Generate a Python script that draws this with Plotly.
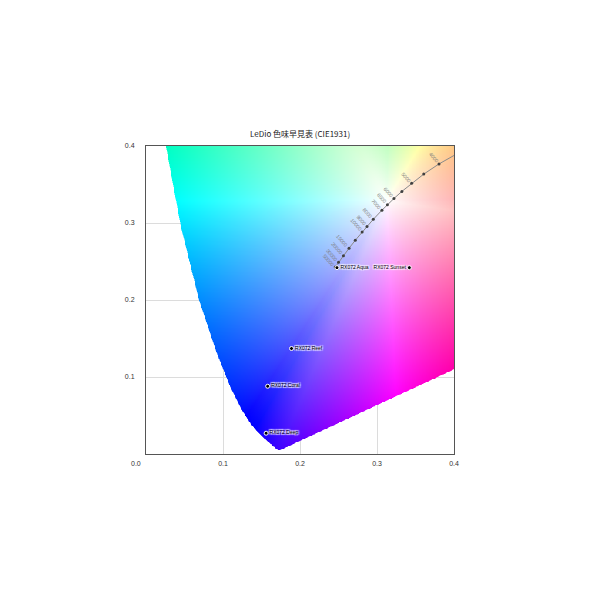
import numpy as np
import plotly.graph_objects as go

title_text = "LeDio 色味早見表 (CIE1931)"

# CIE 1931 2° spectral locus (x, y), 380 nm -> 700 nm
locus_x = [0.1741, 0.1733, 0.1726, 0.1714, 0.1689, 0.1644, 0.1566, 0.1510, 0.1440, 0.1355,
           0.1241, 0.1096, 0.0913, 0.0687, 0.0454, 0.0235, 0.0082, 0.0039, 0.0139, 0.0389,
           0.0743, 0.1547, 0.2296, 0.3016, 0.3731, 0.4441, 0.5125, 0.5752, 0.6270, 0.6915,
           0.7190, 0.7347]
locus_y = [0.0050, 0.0048, 0.0048, 0.0051, 0.0069, 0.0109, 0.0177, 0.0227, 0.0297, 0.0399,
           0.0578, 0.0868, 0.1327, 0.2007, 0.2950, 0.4127, 0.5384, 0.6548, 0.7502, 0.8120,
           0.8338, 0.8059, 0.7543, 0.6923, 0.6245, 0.5547, 0.4866, 0.4242, 0.3725, 0.3083,
           0.2809, 0.2653]
white_point = (0.3127, 0.3290)

# Black-body (Planckian) locus points
cct_K = [3500, 4000, 4500, 5000, 5500, 6000, 6500, 7000, 8000, 9000, 10000, 12000,
         15000, 20000, 30000, 50000]
cct_x = [0.4053, 0.3805, 0.3607, 0.3450, 0.3323, 0.3220, 0.3135, 0.3064, 0.2952, 0.2870,
         0.2807, 0.2718, 0.2637, 0.2564, 0.2500, 0.2457]
cct_y = [0.3907, 0.3767, 0.3635, 0.3516, 0.3410, 0.3318, 0.3237, 0.3166, 0.3048, 0.2956,
         0.2883, 0.2776, 0.2672, 0.2576, 0.2489, 0.2427]
cct_labels = ["", "4000", "", "5000", "", "6000", "6500", "7000", "8000", "9000", "10000", "",
              "15000", "20000", "30000", "50000"]

sample_names = ["RX072 Aqua", "RX072 Sunset", "RX072 Reef", "RX072 Coral", "RX072 Deep"]
sample_x = [0.248, 0.342, 0.189, 0.158, 0.156]
sample_y = [0.242, 0.242, 0.137, 0.088, 0.027]
sample_pos = ["middle right", "middle left", "middle right", "middle right", "middle right"]

tick_vals = [0.1, 0.2, 0.3, 0.4]
tick_text = ["0.1", "0.2", "0.3", "0.4"]
axis_range = [0.0, 0.4]

# ---- colour fill of the chromaticity diagram ----
N = 400
step = (axis_range[1] - axis_range[0]) / N
SS = 2
sub = axis_range[0] + (np.arange(N * SS) + 0.5) * step / SS
PX, PY = np.meshgrid(sub, sub)
vx = np.array(locus_x)
vy = np.array(locus_y)


def inside_poly(px, py):
    res = np.zeros(px.shape, dtype=bool)
    n = len(vx)
    j = n - 1
    for i in range(n):
        xi, yi, xj, yj = vx[i], vy[i], vx[j], vy[j]
        cond = ((yi > py) != (yj > py)) & (px < (xj - xi) * (py - yi) / (yj - yi + 1e-30) + xi)
        res ^= cond
        j = i
    return res


mask = inside_poly(PX, PY).astype(float)
alpha = mask.reshape(N, SS, N, SS).mean(axis=(1, 3))

centers = axis_range[0] + (np.arange(N) + 0.5) * step
CX, CY = np.meshgrid(centers, centers)
wx, wy = white_point
dxv = CX - wx
dyv = CY - wy
dist = np.sqrt(dxv ** 2 + dyv ** 2) + 1e-9
ux = dxv / dist
uy = dyv / dist

# distance from white point to the locus boundary along each ray
tmax = np.zeros_like(dist)
n = len(vx)
for i in range(n):
    j = (i + 1) % n
    ax, ay = vx[i], vy[i]
    ex, ey = vx[j] - ax, vy[j] - ay
    wxv, wyv = ax - wx, ay - wy
    den = ux * ey - uy * ex
    den = np.where(np.abs(den) < 1e-12, 1e-12, den)
    t = (wxv * ey - wyv * ex) / den
    s = (wxv * uy - wyv * ux) / den
    ok = (t > 0) & (s >= 0) & (s <= 1)
    tmax = np.where(ok & (t > tmax), t, tmax)

qx = wx + ux * tmax
qy = np.maximum(wy + uy * tmax, 1e-4)
XX = qx / qy
ZZ = (1 - qx - qy) / qy
M = np.array([[3.2406, -1.5372, -0.4986],
              [-0.9689, 1.8758, 0.0415],
              [0.0557, -0.2040, 1.0570]])
edge = np.stack([M[k, 0] * XX + M[k, 1] + M[k, 2] * ZZ for k in range(3)], axis=-1)
edge = np.clip(edge, 0, None)
edge = edge / np.maximum(edge.max(axis=-1, keepdims=True), 1e-9)
edge = np.power(edge, 1 / 1.3)
sat = np.clip(dist / np.maximum(tmax, 1e-9), 0, 1) ** 0.9
rgb = 1 - sat[..., None] * (1 - edge)
rgba = np.concatenate([rgb * 255, alpha[..., None] * 255], axis=-1)
rgba = np.clip(np.round(rgba), 0, 255).astype(int)

fig = go.Figure()
fig.add_trace(go.Image(z=rgba.tolist(), colormodel="rgba256",
                       x0=centers[0], dx=step, y0=centers[0], dy=step,
                       hoverinfo="skip"))

fig.add_trace(go.Scatter(x=cct_x, y=cct_y, mode="lines+markers",
                         line=dict(color="#8a8a8a", width=1),
                         marker=dict(size=3, color="#404040"),
                         hoverinfo="skip", showlegend=False))

fig.add_trace(go.Scatter(x=sample_x, y=sample_y, mode="markers+text",
                         text=sample_names, textposition=sample_pos,
                         textfont=dict(size=5, color="#000000", family="Liberation Sans",
                                       shadow="1px 1px 1px #fff, -1px -1px 1px #fff, 1px -1px 1px #fff, -1px 1px 1px #fff"),
                         marker=dict(size=4, color="#000000", line=dict(color="#ffffff", width=1)),
                         showlegend=False))

annotations = []
for cx, cy, lab in zip(cct_x, cct_y, cct_labels):
    if lab:
        d = 3 + len(lab) * 1.4
        annotations.append(dict(x=cx, y=cy, xref="x", yref="y", text=lab, showarrow=False,
                                textangle=49, xshift=-0.656 * d, yshift=0.755 * d,
                                font=dict(size=5, color="#7a7a7a", family="Liberation Sans")))
annotations.append(dict(x=0.5, y=1, xref="paper", yref="paper", text=title_text,
                        showarrow=False, yshift=13, yanchor="middle",
                        font=dict(size=8, color="#222222", family="Noto Sans CJK JP")))
annotations.append(dict(x=0, y=0, xref="x", yref="y", text="0.0", showarrow=False,
                        xshift=-10, yshift=-9,
                        font=dict(size=7, color="#333333", family="Liberation Sans")))

axis_common = dict(range=axis_range, autorange=False, tickvals=tick_vals, ticktext=tick_text,
                   showgrid=True, gridcolor="#dcdcdc", gridwidth=1, zeroline=False,
                   showline=True, linecolor="#555555", linewidth=1, mirror=True,
                   ticks="", layer="above traces",
                   tickfont=dict(size=7, color="#333333", family="Liberation Sans"))

fig.update_layout(
    width=600, height=600,
    margin=dict(l=138, r=154, t=138, b=154),
    paper_bgcolor="white", plot_bgcolor="white",
    xaxis=dict(**axis_common, ticklabelstandoff=3),
    yaxis=dict(**axis_common, ticklabelstandoff=9),
    annotations=annotations,
    showlegend=False,
)

fig.write_html("out.html")
